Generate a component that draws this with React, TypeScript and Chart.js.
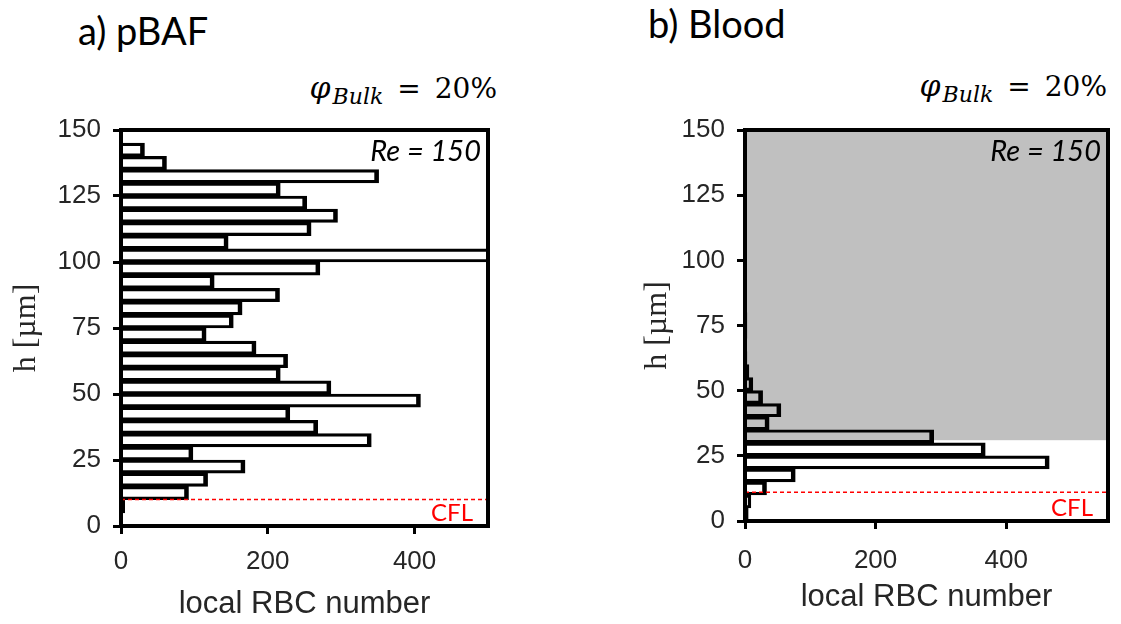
import { useEffect, useRef } from "react";
import Chart from "chart.js/auto";

// histogram bins of h (µm), 5 µm wide
const hBinCenters = [
  2.5, 7.5, 12.5, 17.5, 22.5, 27.5, 32.5, 37.5, 42.5, 47.5,
  52.5, 57.5, 62.5, 67.5, 72.5, 77.5, 82.5, 87.5, 92.5, 97.5,
  102.5, 107.5, 112.5, 117.5, 122.5, 127.5, 132.5, 137.5, 142.5, 147.5,
];

// local RBC number per bin
const pbafCounts = [
  2, 5, 92, 118, 169, 98, 341, 268, 230, 408,
  286, 217, 227, 184, 116, 153, 165, 216, 127, 271,
  520, 146, 259, 295, 253, 217, 351, 62, 32, 0,
];
const bloodCounts = [
  5, 9, 33, 77, 466, 368, 289, 37, 55, 27,
  12, 6, 3, 2, 3, 3, 1, 1, 2, 1,
  1, 1, 1, 1, 2, 2, 0, 0, 0, 0,
];

const hTicks = [0, 25, 50, 75, 100, 125, 150];
const countTicks = [0, 200, 400];

const pbafCfl = 10;
const bloodCfl = 11;
const bloodCoreFrom = 31;

const tickFont = { family: "'Liberation Sans', Arial, sans-serif", size: 26 };
const axisGray = "#262626";

type PanelProps = {
  counts: number[];
  xMax: number;
  cfl: number;
  shadeFrom?: number;
  left: number;
  width: number;
  padLeft: number;
  padRight: number;
  xAxisHeight: number;
  xTickPad: number;
  xTitlePad: number;
  yTitlePad: number;
};

const decorPlugin = {
  id: "decor",
  beforeDatasetsDraw(chart: any, _args: any, opts: any) {
    const { ctx, chartArea } = chart;
    const y = chart.scales.y;
    if (opts.shadeFrom != null) {
      const top = y.getPixelForValue(150);
      const bot = y.getPixelForValue(opts.shadeFrom);
      ctx.save();
      ctx.fillStyle = "#c0c0c0";
      ctx.fillRect(chartArea.left, top, chartArea.right - chartArea.left, bot - top);
      ctx.restore();
    }
  },
  afterDatasetsDraw(chart: any, _args: any, opts: any) {
    const { ctx, chartArea } = chart;
    const y = chart.scales.y;
    const cy = y.getPixelForValue(opts.cfl);
    ctx.save();
    ctx.strokeStyle = "#ff0000";
    ctx.lineWidth = 1.5;
    ctx.setLineDash([4, 3]);
    ctx.beginPath();
    ctx.moveTo(chartArea.left, cy);
    ctx.lineTo(chartArea.right, cy);
    ctx.stroke();
    ctx.setLineDash([]);

    ctx.fillStyle = "#ff0000";
    ctx.font = "24px Lato";
    ctx.textAlign = "right";
    ctx.textBaseline = "alphabetic";
    ctx.fillText("CFL", chartArea.right - 15, chartArea.bottom - 5);

    ctx.fillStyle = "#000";
    ctx.font = "italic 29px Lato";
    ctx.fillText("Re = 150", chartArea.right - 7, chartArea.top + 31);

    ctx.strokeStyle = "#000";
    ctx.lineWidth = 4;
    ctx.strokeRect(chartArea.left, chartArea.top, chartArea.right - chartArea.left, chartArea.bottom - chartArea.top);
    ctx.restore();
  },
};

const Panel = (p: PanelProps) => {
  const canvasRef = useRef<HTMLCanvasElement | null>(null);
  const chartRef = useRef<Chart | null>(null);

  useEffect(() => {
    if (chartRef.current !== null) chartRef.current.destroy();
    if (canvasRef.current === null) return;

    chartRef.current = new Chart(canvasRef.current, {
      type: "bar",
      data: {
        datasets: [
          {
            data: hBinCenters.map((h, i) => ({ x: p.counts[i], y: h })),
            backgroundColor: "rgba(0,0,0,0)",
            borderColor: "#000",
            borderWidth: { top: 2.5, bottom: 2.5, right: 4, left: 0 },
            borderSkipped: false,
            categoryPercentage: 1,
            barPercentage: 1,
            clip: 0,
          } as any,
        ],
      },
      options: {
        indexAxis: "y",
        responsive: false,
        animation: false,
        layout: { padding: { left: p.padLeft, top: 30, right: p.padRight, bottom: 0 } },
        plugins: {
          legend: { display: false },
          tooltip: { enabled: false },
          decor: { cfl: p.cfl, shadeFrom: p.shadeFrom },
        } as any,
        scales: {
          x: {
            type: "linear",
            min: 0,
            max: p.xMax,
            offset: false,
            afterBuildTicks: (s: any) => {
              s.ticks = countTicks.map((v) => ({ value: v }));
            },
            afterFit: (s: any) => {
              s.height = p.xAxisHeight;
            },
            grid: {
              display: true,
              offset: false,
              drawOnChartArea: false,
              drawTicks: true,
              tickLength: 8,
              tickWidth: 3,
              tickColor: "#000",
            },
            border: { display: false },
            ticks: { font: tickFont, color: axisGray, padding: p.xTickPad, maxRotation: 0 },
            title: {
              display: true,
              text: "local RBC number",
              font: { family: "'Liberation Sans', Arial, sans-serif", size: 31 },
              color: axisGray,
              padding: { top: 0, bottom: p.xTitlePad },
            },
          },
          y: {
            type: "linear",
            min: 0,
            max: 150,
            offset: false,
            afterBuildTicks: (s: any) => {
              s.ticks = hTicks.map((v) => ({ value: v }));
            },
            afterFit: (s: any) => {
              s.width = 121;
            },
            grid: {
              display: true,
              offset: false,
              drawOnChartArea: false,
              drawTicks: true,
              tickLength: 8,
              tickWidth: 3,
              tickColor: "#000",
            },
            border: { display: false },
            ticks: { font: tickFont, color: axisGray, padding: 12 },
            title: {
              display: true,
              text: "h [µm]",
              font: { family: "'Liberation Serif', 'Times New Roman', serif", size: 32 },
              color: axisGray,
              padding: { top: p.yTitlePad, bottom: 0 },
            },
          },
        },
      },
      plugins: [decorPlugin],
    });

    return () => {
      if (chartRef.current !== null) {
        chartRef.current.destroy();
        chartRef.current = null;
      }
    };
  }, []);

  return (
    <canvas
      ref={canvasRef}
      width={p.width}
      height={524}
      style={{ position: "absolute", left: p.left, top: 100, width: p.width, height: 524 }}
    />
  );
};

const titleStyle = {
  position: "absolute" as const,
  fontFamily: "Lato, sans-serif",
  fontSize: 38,
  lineHeight: 1,
  whiteSpace: "nowrap" as const,
  color: "#000",
};

const PhiLabel = ({ right, top }: { right: number; top: number }) => (
  <div
    style={{
      position: "absolute",
      right,
      top,
      fontFamily: "'DejaVu Serif', serif",
      fontSize: 28,
      lineHeight: 1,
      whiteSpace: "nowrap",
      color: "#000",
    }}
  >
    <span style={{ fontStyle: "italic", fontSize: 30 }}>φ</span>
    <span style={{ fontStyle: "italic", fontSize: 22, position: "relative", top: 6, marginLeft: 2 }}>Bulk</span>
    <span style={{ margin: "0 14px" }}>=</span>
    <span>20%</span>
  </div>
);

export default function App() {
  return (
    <div style={{ position: "absolute", left: 0, top: 0, width: 1121, height: 624, background: "#fff", overflow: "hidden" }}>
      <div style={{ ...titleStyle, left: 78, top: 11 }}>a) pBAF</div>
      <div style={{ ...titleStyle, left: 648, top: 4 }}>b) Blood</div>
      <PhiLabel right={1121 - 497} top={73} />
      <PhiLabel right={1121 - 1107} top={71} />
      <Panel
        counts={pbafCounts}
        xMax={500}
        cfl={pbafCfl}
        left={0}
        width={540}
        padLeft={0}
        padRight={52}
        xAxisHeight={98}
        xTickPad={12}
        xTitlePad={1}
        yTitlePad={7}
      />
      <Panel
        counts={bloodCounts}
        xMax={556}
        cfl={bloodCfl}
        shadeFrom={bloodCoreFrom}
        left={560}
        width={561}
        padLeft={64}
        padRight={13}
        xAxisHeight={103}
        xTickPad={16}
        xTitlePad={8}
        yTitlePad={14}
      />
    </div>
  );
}
